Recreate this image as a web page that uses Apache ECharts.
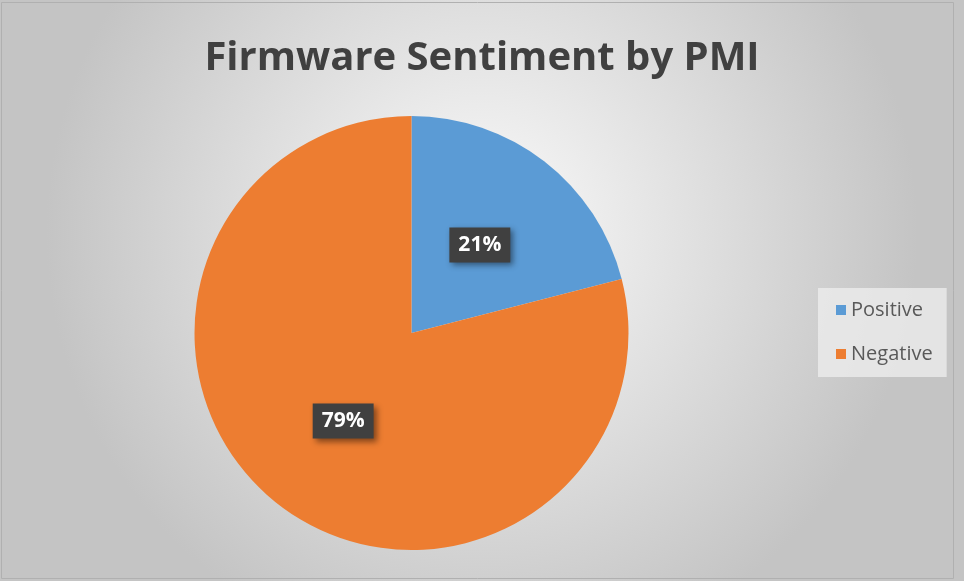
<!DOCTYPE html>
<html>
<head>
<meta charset="utf-8">
<script src="https://cdn.jsdelivr.net/npm/echarts@6/dist/echarts.min.js"></script>
<style>
html,body{margin:0;padding:0;background:#c8c8c8;}
#main{width:964px;height:581px;}
</style>
</head>
<body>
<div id="main"></div>
<script>
const titleText = 'Firmware Sentiment by PMI';
const categories = ['Positive', 'Negative'];
const values = [21, 79];
const colors = ['#5b9bd5', '#ed7d31'];

const chart = echarts.init(document.getElementById('main'), null, {renderer: 'canvas'});
const option = {
  animation: false,
  backgroundColor: {
    type: 'radial', x: 0.5, y: 0.4, r: 0.75,
    colorStops: [
      {offset: 0, color: '#fbfbfb'},
      {offset: 1, color: '#c4c4c4'}
    ]
  },
  graphic: [{
    type: 'rect', shape: {x: 1.5, y: 2.5, width: 952, height: 576},
    style: {fill: 'none', stroke: '#b0b0b0', lineWidth: 1}, silent: true
  }],
  title: {
    text: titleText, left: 'center', top: 34,
    textStyle: {fontFamily: 'Open Sans', fontWeight: 'bold', fontSize: 40, color: '#404040'}
  },
  legend: {
    orient: 'vertical', left: 818, top: 288,
    data: categories,
    itemWidth: 10, itemHeight: 10, itemGap: 24,
    icon: 'rect',
    backgroundColor: 'rgba(236,236,236,0.8)',
    padding: [12, 14, 13, 18],
    textStyle: {fontFamily: 'Open Sans', fontSize: 20, color: '#595959'}
  },
  series: [{
    type: 'pie',
    center: [411.5, 333],
    radius: [0, 217],
    startAngle: 90,
    clockwise: true,
    color: colors,
    label: {
      show: true, position: 'inside',
      formatter: p => p.value + '%',
      fontFamily: 'Open Sans', fontWeight: 'bold', fontSize: 21, color: '#ffffff',
      backgroundColor: '#404040', padding: [8, 9, 6, 9],
      shadowColor: 'rgba(0,0,0,0.45)', shadowBlur: 6, shadowOffsetX: 3, shadowOffsetY: 3
    },
    labelLine: {show: false},
    emphasis: {disabled: true},
    data: categories.map((c, i) => ({name: c, value: values[i]}))
  }]
};
chart.setOption(option);
</script>
</body>
</html>
